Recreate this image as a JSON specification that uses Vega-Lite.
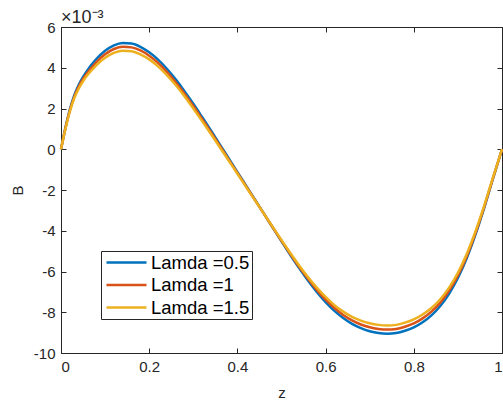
{
  "$schema": "https://vega.github.io/schema/vega-lite/v6.json",
  "width": 441,
  "height": 326,
  "autosize": "none",
  "padding": {"left": 61, "top": 27, "right": 1, "bottom": 50},
  "background": "white",
  "config": {
    "font": "Liberation Sans",
    "view": {"stroke": null},
    "axis": {
      "grid": false,
      "domainColor": "#262626",
      "tickColor": "#262626",
      "labelColor": "#262626",
      "titleColor": "#262626",
      "tickSize": -5,
      "labelFontSize": 15,
      "titleFontSize": 15,
      "titleFontWeight": "normal",
      "labelPadding": 11
    }
  },
  "title": {"text": "×10⁻³", "anchor": "start", "frame": "group", "fontSize": 18, "fontWeight": "normal", "color": "#262626", "offset": -7},
  "data": {"values": [
    {"z":0,"B":0,"s":"Lamda =0.5"},{"z":0.01,"B":1.05,"s":"Lamda =0.5"},{"z":0.02,"B":1.95,"s":"Lamda =0.5"},{"z":0.03,"B":2.64,"s":"Lamda =0.5"},{"z":0.04,"B":3.15,"s":"Lamda =0.5"},{"z":0.05,"B":3.55,"s":"Lamda =0.5"},{"z":0.06,"B":3.88,"s":"Lamda =0.5"},{"z":0.08,"B":4.42,"s":"Lamda =0.5"},{"z":0.1,"B":4.83,"s":"Lamda =0.5"},{"z":0.12,"B":5.1,"s":"Lamda =0.5"},{"z":0.14,"B":5.22,"s":"Lamda =0.5"},{"z":0.16,"B":5.19,"s":"Lamda =0.5"},{"z":0.18,"B":5.03,"s":"Lamda =0.5"},{"z":0.2,"B":4.76,"s":"Lamda =0.5"},{"z":0.22,"B":4.4,"s":"Lamda =0.5"},{"z":0.24,"B":3.95,"s":"Lamda =0.5"},{"z":0.26,"B":3.43,"s":"Lamda =0.5"},{"z":0.28,"B":2.85,"s":"Lamda =0.5"},{"z":0.3,"B":2.23,"s":"Lamda =0.5"},{"z":0.32,"B":1.58,"s":"Lamda =0.5"},{"z":0.34,"B":0.92,"s":"Lamda =0.5"},{"z":0.36,"B":0.24,"s":"Lamda =0.5"},{"z":0.38,"B":-0.44,"s":"Lamda =0.5"},{"z":0.4,"B":-1.12,"s":"Lamda =0.5"},{"z":0.42,"B":-1.8,"s":"Lamda =0.5"},{"z":0.44,"B":-2.48,"s":"Lamda =0.5"},{"z":0.46,"B":-3.16,"s":"Lamda =0.5"},{"z":0.48,"B":-3.84,"s":"Lamda =0.5"},{"z":0.5,"B":-4.52,"s":"Lamda =0.5"},{"z":0.52,"B":-5.19,"s":"Lamda =0.5"},{"z":0.54,"B":-5.83,"s":"Lamda =0.5"},{"z":0.56,"B":-6.44,"s":"Lamda =0.5"},{"z":0.58,"B":-7.0,"s":"Lamda =0.5"},{"z":0.6,"B":-7.5,"s":"Lamda =0.5"},{"z":0.62,"B":-7.93,"s":"Lamda =0.5"},{"z":0.64,"B":-8.28,"s":"Lamda =0.5"},{"z":0.66,"B":-8.57,"s":"Lamda =0.5"},{"z":0.68,"B":-8.78,"s":"Lamda =0.5"},{"z":0.7,"B":-8.93,"s":"Lamda =0.5"},{"z":0.72,"B":-9.02,"s":"Lamda =0.5"},{"z":0.74,"B":-9.05,"s":"Lamda =0.5"},{"z":0.76,"B":-9.02,"s":"Lamda =0.5"},{"z":0.78,"B":-8.91,"s":"Lamda =0.5"},{"z":0.8,"B":-8.74,"s":"Lamda =0.5"},{"z":0.82,"B":-8.49,"s":"Lamda =0.5"},{"z":0.84,"B":-8.15,"s":"Lamda =0.5"},{"z":0.86,"B":-7.69,"s":"Lamda =0.5"},{"z":0.88,"B":-7.09,"s":"Lamda =0.5"},{"z":0.9,"B":-6.32,"s":"Lamda =0.5"},{"z":0.92,"B":-5.35,"s":"Lamda =0.5"},{"z":0.94,"B":-4.18,"s":"Lamda =0.5"},{"z":0.96,"B":-2.85,"s":"Lamda =0.5"},{"z":0.98,"B":-1.41,"s":"Lamda =0.5"},{"z":1,"B":0,"s":"Lamda =0.5"},
    {"z":0,"B":0,"s":"Lamda =1"},{"z":0.01,"B":1.03,"s":"Lamda =1"},{"z":0.02,"B":1.9,"s":"Lamda =1"},{"z":0.03,"B":2.57,"s":"Lamda =1"},{"z":0.04,"B":3.06,"s":"Lamda =1"},{"z":0.05,"B":3.45,"s":"Lamda =1"},{"z":0.06,"B":3.76,"s":"Lamda =1"},{"z":0.08,"B":4.27,"s":"Lamda =1"},{"z":0.1,"B":4.66,"s":"Lamda =1"},{"z":0.12,"B":4.92,"s":"Lamda =1"},{"z":0.14,"B":5.03,"s":"Lamda =1"},{"z":0.16,"B":5.0,"s":"Lamda =1"},{"z":0.18,"B":4.85,"s":"Lamda =1"},{"z":0.2,"B":4.59,"s":"Lamda =1"},{"z":0.22,"B":4.24,"s":"Lamda =1"},{"z":0.24,"B":3.8,"s":"Lamda =1"},{"z":0.26,"B":3.29,"s":"Lamda =1"},{"z":0.28,"B":2.73,"s":"Lamda =1"},{"z":0.3,"B":2.12,"s":"Lamda =1"},{"z":0.32,"B":1.48,"s":"Lamda =1"},{"z":0.34,"B":0.84,"s":"Lamda =1"},{"z":0.36,"B":0.17,"s":"Lamda =1"},{"z":0.38,"B":-0.5,"s":"Lamda =1"},{"z":0.4,"B":-1.16,"s":"Lamda =1"},{"z":0.42,"B":-1.83,"s":"Lamda =1"},{"z":0.44,"B":-2.5,"s":"Lamda =1"},{"z":0.46,"B":-3.16,"s":"Lamda =1"},{"z":0.48,"B":-3.83,"s":"Lamda =1"},{"z":0.5,"B":-4.49,"s":"Lamda =1"},{"z":0.52,"B":-5.14,"s":"Lamda =1"},{"z":0.54,"B":-5.77,"s":"Lamda =1"},{"z":0.56,"B":-6.36,"s":"Lamda =1"},{"z":0.58,"B":-6.9,"s":"Lamda =1"},{"z":0.6,"B":-7.38,"s":"Lamda =1"},{"z":0.62,"B":-7.79,"s":"Lamda =1"},{"z":0.64,"B":-8.13,"s":"Lamda =1"},{"z":0.66,"B":-8.4,"s":"Lamda =1"},{"z":0.68,"B":-8.6,"s":"Lamda =1"},{"z":0.7,"B":-8.74,"s":"Lamda =1"},{"z":0.72,"B":-8.82,"s":"Lamda =1"},{"z":0.74,"B":-8.85,"s":"Lamda =1"},{"z":0.76,"B":-8.82,"s":"Lamda =1"},{"z":0.78,"B":-8.71,"s":"Lamda =1"},{"z":0.8,"B":-8.55,"s":"Lamda =1"},{"z":0.82,"B":-8.3,"s":"Lamda =1"},{"z":0.84,"B":-7.97,"s":"Lamda =1"},{"z":0.86,"B":-7.53,"s":"Lamda =1"},{"z":0.88,"B":-6.94,"s":"Lamda =1"},{"z":0.9,"B":-6.19,"s":"Lamda =1"},{"z":0.92,"B":-5.25,"s":"Lamda =1"},{"z":0.94,"B":-4.1,"s":"Lamda =1"},{"z":0.96,"B":-2.8,"s":"Lamda =1"},{"z":0.98,"B":-1.39,"s":"Lamda =1"},{"z":1,"B":0,"s":"Lamda =1"},
    {"z":0,"B":0,"s":"Lamda =1.5"},{"z":0.01,"B":1.0,"s":"Lamda =1.5"},{"z":0.02,"B":1.85,"s":"Lamda =1.5"},{"z":0.03,"B":2.5,"s":"Lamda =1.5"},{"z":0.04,"B":2.97,"s":"Lamda =1.5"},{"z":0.05,"B":3.34,"s":"Lamda =1.5"},{"z":0.06,"B":3.64,"s":"Lamda =1.5"},{"z":0.08,"B":4.12,"s":"Lamda =1.5"},{"z":0.1,"B":4.49,"s":"Lamda =1.5"},{"z":0.12,"B":4.73,"s":"Lamda =1.5"},{"z":0.14,"B":4.84,"s":"Lamda =1.5"},{"z":0.16,"B":4.81,"s":"Lamda =1.5"},{"z":0.18,"B":4.66,"s":"Lamda =1.5"},{"z":0.2,"B":4.41,"s":"Lamda =1.5"},{"z":0.22,"B":4.07,"s":"Lamda =1.5"},{"z":0.24,"B":3.64,"s":"Lamda =1.5"},{"z":0.26,"B":3.15,"s":"Lamda =1.5"},{"z":0.28,"B":2.6,"s":"Lamda =1.5"},{"z":0.3,"B":2.0,"s":"Lamda =1.5"},{"z":0.32,"B":1.38,"s":"Lamda =1.5"},{"z":0.34,"B":0.75,"s":"Lamda =1.5"},{"z":0.36,"B":0.1,"s":"Lamda =1.5"},{"z":0.38,"B":-0.55,"s":"Lamda =1.5"},{"z":0.4,"B":-1.2,"s":"Lamda =1.5"},{"z":0.42,"B":-1.86,"s":"Lamda =1.5"},{"z":0.44,"B":-2.51,"s":"Lamda =1.5"},{"z":0.46,"B":-3.16,"s":"Lamda =1.5"},{"z":0.48,"B":-3.81,"s":"Lamda =1.5"},{"z":0.5,"B":-4.46,"s":"Lamda =1.5"},{"z":0.52,"B":-5.09,"s":"Lamda =1.5"},{"z":0.54,"B":-5.7,"s":"Lamda =1.5"},{"z":0.56,"B":-6.27,"s":"Lamda =1.5"},{"z":0.58,"B":-6.79,"s":"Lamda =1.5"},{"z":0.6,"B":-7.25,"s":"Lamda =1.5"},{"z":0.62,"B":-7.65,"s":"Lamda =1.5"},{"z":0.64,"B":-7.97,"s":"Lamda =1.5"},{"z":0.66,"B":-8.23,"s":"Lamda =1.5"},{"z":0.68,"B":-8.41,"s":"Lamda =1.5"},{"z":0.7,"B":-8.54,"s":"Lamda =1.5"},{"z":0.72,"B":-8.62,"s":"Lamda =1.5"},{"z":0.74,"B":-8.65,"s":"Lamda =1.5"},{"z":0.76,"B":-8.62,"s":"Lamda =1.5"},{"z":0.78,"B":-8.51,"s":"Lamda =1.5"},{"z":0.8,"B":-8.35,"s":"Lamda =1.5"},{"z":0.82,"B":-8.11,"s":"Lamda =1.5"},{"z":0.84,"B":-7.79,"s":"Lamda =1.5"},{"z":0.86,"B":-7.36,"s":"Lamda =1.5"},{"z":0.88,"B":-6.79,"s":"Lamda =1.5"},{"z":0.9,"B":-6.06,"s":"Lamda =1.5"},{"z":0.92,"B":-5.14,"s":"Lamda =1.5"},{"z":0.94,"B":-4.02,"s":"Lamda =1.5"},{"z":0.96,"B":-2.74,"s":"Lamda =1.5"},{"z":0.98,"B":-1.36,"s":"Lamda =1.5"},{"z":1,"B":0,"s":"Lamda =1.5"}
  ]},
  "layer": [
    {
      "mark": {"type": "line", "strokeWidth": 2.5, "interpolate": "monotone"},
      "encoding": {
        "x": {"field": "z", "type": "quantitative", "scale": {"domain": [0, 1], "nice": false, "zero": false},
              "axis": {"title": "z", "orient": "bottom", "values": [0, 0.2, 0.4, 0.6, 0.8, 1], "format": "~g", "titlePadding": 11}},
        "y": {"field": "B", "type": "quantitative", "scale": {"domain": [-10, 6], "nice": false, "zero": false},
              "axis": {"title": "B", "orient": "left", "values": [-10, -8, -6, -4, -2, 0, 2, 4, 6],
                       "labelExpr": "datum.value < 0 ? '-' + abs(datum.value) : '' + datum.value", "titlePadding": 8}},
        "color": {"field": "s", "type": "nominal",
                  "scale": {"domain": ["Lamda =0.5", "Lamda =1", "Lamda =1.5"], "range": ["#0072BD", "#D95319", "#EDB120"]},
                  "legend": {"title": null, "orient": "none", "legendX": 40, "legendY": 224,
                             "strokeColor": "#262626", "fillColor": "white", "padding": 2,
                             "symbolType": "stroke", "symbolSize": 1600, "symbolStrokeWidth": 2.5,
                             "clipHeight": 19, "rowPadding": 3.5, "labelFontSize": 18.5, "labelColor": "#000000",
                             "labelOffset": 3, "symbolOffset": 2, "labelLimit": 300}}
      }
    },
    {
      "mark": {"type": "line", "opacity": 0},
      "encoding": {
        "x": {"field": "z", "type": "quantitative", "axis": {"orient": "top", "labels": false, "title": null, "values": [0, 0.2, 0.4, 0.6, 0.8, 1]}},
        "y": {"field": "B", "type": "quantitative", "axis": {"orient": "right", "labels": false, "title": null, "values": [-10, -8, -6, -4, -2, 0, 2, 4, 6]}},
        "detail": {"field": "s"}
      }
    }
  ],
  "resolve": {"axis": {"x": "independent", "y": "independent"}}
}
